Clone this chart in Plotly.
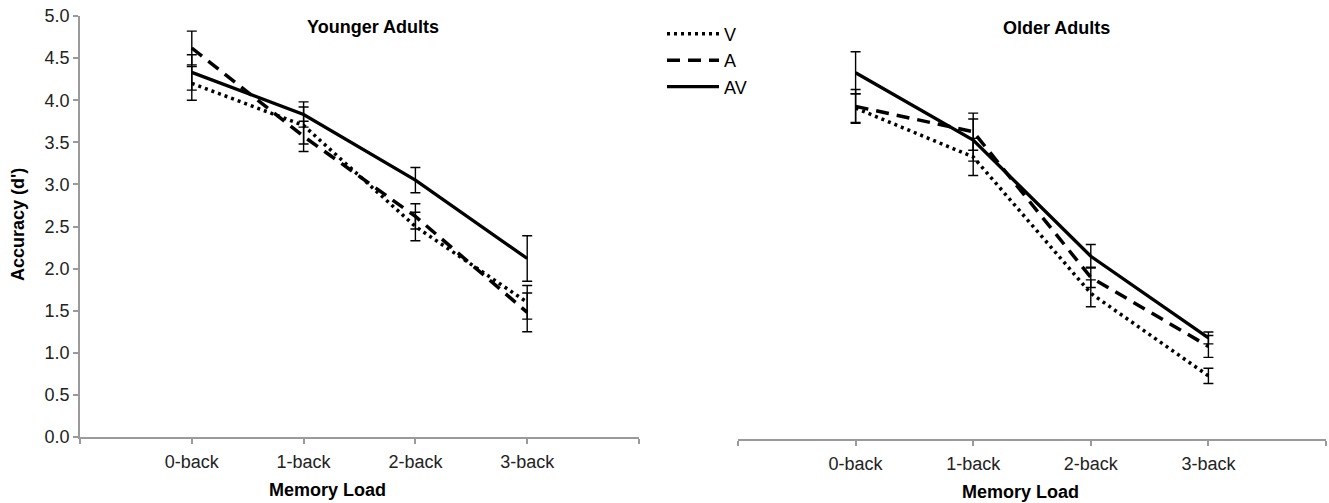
import plotly.graph_objects as go

categories = ["0-back", "1-back", "2-back", "3-back"]
series_names = ["V", "A", "AV"]

# Younger adults
young_V = [4.20, 3.70, 2.50, 1.60]
young_A = [4.62, 3.57, 2.62, 1.48]
young_AV = [4.33, 3.83, 3.05, 2.12]
young_V_err = [0.20, 0.22, 0.17, 0.20]
young_A_err = [0.20, 0.18, 0.15, 0.23]
young_AV_err = [0.21, 0.15, 0.15, 0.27]

# Older adults
old_V = [3.93, 3.35, 1.73, 0.75]
old_A = [3.95, 3.65, 1.92, 1.10]
old_AV = [4.35, 3.55, 2.17, 1.20]
old_V_err = [0.17, 0.22, 0.16, 0.09]
old_A_err = [0.20, 0.22, 0.12, 0.13]
old_AV_err = [0.25, 0.25, 0.14, 0.07]

y_ticks = [0.0, 0.5, 1.0, 1.5, 2.0, 2.5, 3.0, 3.5, 4.0, 4.5, 5.0]

W, H = 1329, 503
FONT = "Liberation Sans, Arial, sans-serif"
xpos = list(range(1, len(categories) + 1))
tickvals = list(range(0, len(categories) + 2))
ticktext = [""] + categories + [""]

styles = {
    "V": dict(dash="3px,4px", width=3.5),
    "A": dict(dash="13px,8px", width=3.5),
    "AV": dict(dash="solid", width=3.3),
}

fig = go.Figure()

panels = [
    ("x", "y", [young_V, young_A, young_AV], [young_V_err, young_A_err, young_AV_err], True),
    ("x2", "y2", [old_V, old_A, old_AV], [old_V_err, old_A_err, old_AV_err], False),
]
for xa, ya, vals, errs, show in panels:
    for name, v, e in zip(series_names, vals, errs):
        st = styles[name]
        fig.add_trace(go.Scatter(
            x=xpos, y=v, name=name, mode="lines", xaxis=xa, yaxis=ya,
            showlegend=show,
            line=dict(color="black", width=st["width"], dash=st["dash"]),
            error_y=dict(type="data", array=e, visible=True, color="black",
                         thickness=1.4, width=5),
        ))

axis_gray = "#9a9a9a"
xcommon = dict(range=[0, len(categories) + 1], tickvals=tickvals, ticktext=ticktext,
               showline=True, linecolor=axis_gray, linewidth=1.5, ticks="outside",
               ticklen=5, tickcolor=axis_gray, tickwidth=1.5, showgrid=False,
               zeroline=False, tickfont=dict(family=FONT, size=18, color="#222"),
               ticklabelstandoff=3, automargin=False)

fig.update_layout(
    width=W, height=H,
    margin=dict(l=0, r=0, t=0, b=0, autoexpand=False),
    paper_bgcolor="white", plot_bgcolor="white",
    xaxis=dict(domain=[80 / W, 639 / W], anchor="y", **xcommon),
    xaxis2=dict(domain=[738 / W, 1326 / W], anchor="y2", **xcommon),
    yaxis=dict(domain=[(H - 437) / H, (H - 16) / H], range=[0, 5], anchor="x",
               tickvals=y_ticks, tickformat=".1f", showline=True, linecolor=axis_gray,
               linewidth=1.5, ticks="outside", ticklen=5, tickcolor=axis_gray,
               tickwidth=1.5, showgrid=False, zeroline=False, automargin=False,
               tickfont=dict(family=FONT, size=18, color="#222")),
    yaxis2=dict(domain=[(H - 439) / H, (H - 18) / H], range=[0, 5], anchor="x2",
                visible=False),
    legend=dict(x=662 / W, y=0.969, xanchor="left", yanchor="top", itemwidth=52,
                font=dict(family=FONT, size=18, color="black"),
                bgcolor="rgba(0,0,0,0)", tracegroupgap=0),
    showlegend=True,
)

annos = [
    dict(text="<b>Younger Adults</b>", x=373 / W, y=1 - 27 / H),
    dict(text="<b>Older Adults</b>", x=1056 / W, y=1 - 28 / H),
    dict(text="<b>Memory Load</b>", x=327 / W, y=1 - 490 / H),
    dict(text="<b>Memory Load</b>", x=1020 / W, y=1 - 492 / H),
]
for a in annos:
    fig.add_annotation(xref="paper", yref="paper", showarrow=False,
                       xanchor="center", yanchor="middle",
                       font=dict(family=FONT, size=18, color="black"), **a)
fig.add_annotation(xref="paper", yref="paper", showarrow=False, text="<b>Accuracy (d')</b>",
                   x=18 / W, y=1 - 225 / H, xanchor="center", yanchor="middle", textangle=-90,
                   font=dict(family=FONT, size=18, color="black"))

fig.write_html("out.html")
